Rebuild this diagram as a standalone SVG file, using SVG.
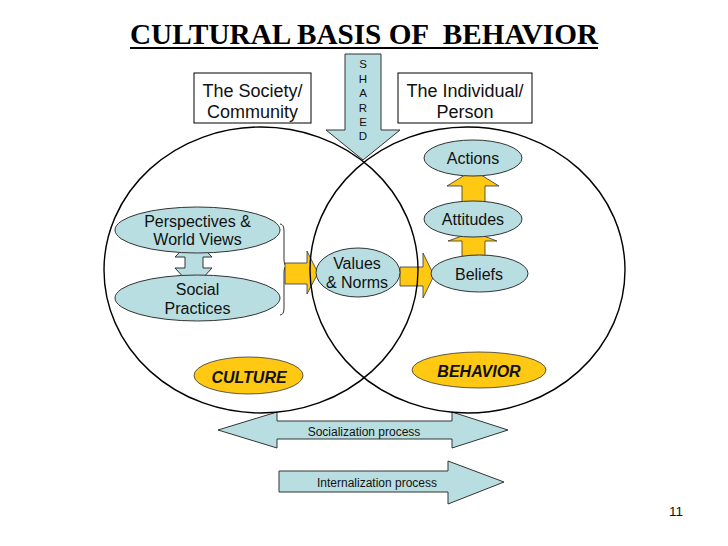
<svg xmlns="http://www.w3.org/2000/svg" width="728" height="546" viewBox="0 0 728 546">
<style>
.t{font-family:"Liberation Sans",Arial,sans-serif;fill:#111;text-anchor:middle}
.blue{fill:#b8dee2;stroke:#333;stroke-width:1}
.yel{fill:#ffc813;stroke:#333;stroke-width:0.8}
.box{fill:#fff;stroke:#000;stroke-width:1}
.circ{fill:none;stroke:#000;stroke-width:1.4}
</style>
<rect width="728" height="546" fill="#fff"/>
<g id="title">
<text x="364" y="44" text-anchor="middle" font-family="'Liberation Serif','Times New Roman',serif" font-weight="bold" font-size="28.5" textLength="468" lengthAdjust="spacingAndGlyphs" xml:space="preserve" fill="#000">CULTURAL BASIS OF  BEHAVIOR</text>
<line x1="130" y1="48" x2="598" y2="48" stroke="#000" stroke-width="2"/>
</g>
<g id="connectors">
<polygon id="shared-arrow" class="blue" points="345,54 381,54 381,130 400,130 363,160 326,130 345,130"/>
<polygon class="blue" points="193.5,238 212,257 203,257 203,268 212,268 193.5,288 175,268 185,268 185,257 175,257"/>
<path d="M280,224 Q284,224 284,231 L284,259 Q284,266 287,266 Q284,266 284,273 L284,308 Q284,315 280,315" fill="none" stroke="#333" stroke-width="1"/>
<polygon class="yel" points="285,263 307,263 307,251 318,273 307,294 307,284 285,284"/>
<polygon class="yel" points="400,267 423,267 423,253 434,275.5 423,298 423,286 400,286"/>
<polygon class="yel" points="473,170 499,186 485,186 485,204 462,204 462,186 447,186"/>
<polygon class="yel" points="473,232 497,241 485,241 485,258 462,258 462,241 448,241"/>
<polygon class="blue" points="218,430 277,412 277,421 452,421 452,412 508,430 452,448 452,439 277,439 277,448"/>
<polygon class="blue" points="279,471 448,471 448,461 504,482 448,504 448,492 279,492"/>
</g>
<g id="circles">
<ellipse class="circ" cx="261" cy="270" rx="157" ry="143"/>
<ellipse class="circ" cx="467.5" cy="270" rx="157.5" ry="143"/>
</g>
<g id="shared-label" class="t" font-size="11.5">
<text x="363" y="68">S</text>
<text x="363" y="82.5">H</text>
<text x="363" y="97">A</text>
<text x="363" y="111.5">R</text>
<text x="363" y="126">E</text>
<text x="363" y="140">D</text>
</g>
<g id="society">
<rect class="box" x="194" y="73" width="117" height="50"/>
<text class="t" font-size="18" x="252.5" y="96.5">The Society/</text>
<text class="t" font-size="18" x="252.5" y="117.5">Community</text>
</g>
<g id="individual">
<rect class="box" x="398" y="73" width="134" height="50"/>
<text class="t" font-size="18" x="465" y="96.5">The Individual/</text>
<text class="t" font-size="18" x="465" y="117.5">Person</text>
</g>
<g id="perspectives">
<ellipse class="blue" cx="197.5" cy="230" rx="82.5" ry="23"/>
<text class="t" font-size="16" x="197.5" y="226.5">Perspectives &amp;</text>
<text class="t" font-size="16" x="197.5" y="245">World Views</text>
</g>
<g id="social">
<ellipse class="blue" cx="197.5" cy="298" rx="82.5" ry="23"/>
<text class="t" font-size="16" x="197.5" y="295">Social</text>
<text class="t" font-size="16" x="197.5" y="313.5">Practices</text>
</g>
<g id="values">
<ellipse class="blue" cx="358" cy="272.5" rx="42" ry="24.5"/>
<text class="t" font-size="16" x="357" y="269">Values</text>
<text class="t" font-size="16" x="357" y="288">&amp; Norms</text>
</g>
<g id="actions">
<ellipse class="blue" cx="473" cy="158" rx="49" ry="18"/>
<text class="t" font-size="16" x="473" y="164">Actions</text>
</g>
<g id="attitudes">
<ellipse class="blue" cx="473" cy="219" rx="49" ry="18"/>
<text class="t" font-size="16" x="473" y="225">Attitudes</text>
</g>
<g id="beliefs">
<ellipse class="blue" cx="479.5" cy="273.5" rx="48.5" ry="18.5"/>
<text class="t" font-size="16" x="479" y="279.5">Beliefs</text>
</g>
<g id="culture">
<ellipse class="yel" cx="248.5" cy="375.5" rx="54.5" ry="18.5"/>
<text class="t" font-size="16" font-weight="bold" font-style="italic" x="249" y="383">CULTURE</text>
</g>
<g id="behavior">
<ellipse class="yel" cx="479" cy="370" rx="67" ry="18"/>
<text class="t" font-size="16" font-weight="bold" font-style="italic" x="479" y="376.5">BEHAVIOR</text>
</g>
<g id="labels">
<text class="t" font-size="12" x="364" y="435.5">Socialization process</text>
<text class="t" font-size="12" x="377" y="486.5">Internalization process</text>
<text class="t" font-size="13.5" x="676" y="515.5">11</text>
</g>
</svg>
